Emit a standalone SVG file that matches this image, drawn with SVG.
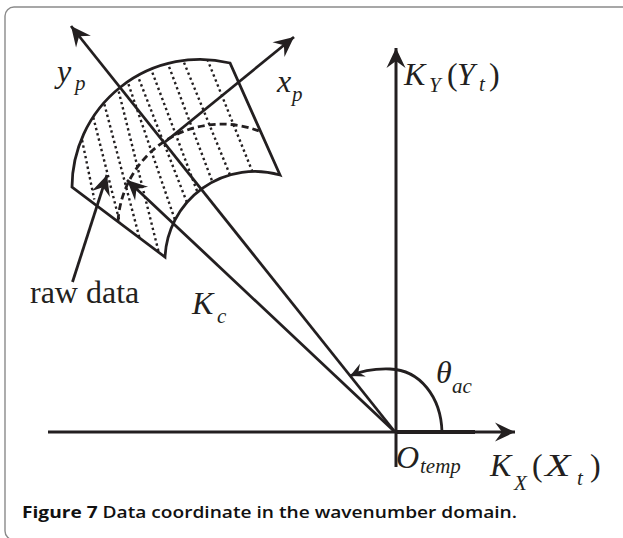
<svg xmlns="http://www.w3.org/2000/svg" width="623" height="538" viewBox="0 0 623 538">
<style>
.ln{fill:none;stroke:#231f20;stroke-width:2.8;stroke-linecap:butt}
.dot{fill:none;stroke:#231f20;stroke-width:2.4;stroke-dasharray:2.4 3}
.dash{fill:none;stroke:#231f20;stroke-width:2.8;stroke-dasharray:7 4}
.m{font-family:"Liberation Serif","Times New Roman",serif;font-style:italic;fill:#231f20}
.r{font-family:"Liberation Serif","Times New Roman",serif;font-style:normal;fill:#231f20}
.big{font-size:32px}
.sub{font-size:21px}
.cap{font-family:"Open Sans","Noto Sans",sans-serif;font-size:16px;fill:#111}
</style>
<defs>
<marker id="ah" markerUnits="userSpaceOnUse" viewBox="-22 -12 24 24" markerWidth="24" markerHeight="24" refX="0" refY="0" orient="auto">
<path d="M0,0 L-20,-9.5 L-13,0 L-20,9.5 Z" fill="#231f20"/>
</marker>
<marker id="ahs" markerUnits="userSpaceOnUse" viewBox="-22 -12 24 24" markerWidth="20" markerHeight="20" refX="0" refY="0" orient="auto">
<path d="M0,0 L-17,-8.5 L-11,0 L-17,8.5 Z" fill="#231f20"/>
</marker>
<clipPath id="shapeClip">
<path d="M72,187 A128,128 0 0 1 230,63 L280,175 A90,90 0 0 0 165,257 Z"/>
</clipPath>
</defs>
<rect x="5" y="7" width="680" height="533" rx="9" fill="#fff" stroke="#8a8a8a" stroke-width="1.4"/>

<g id="raw-data-region">
<path class="ln" d="M72,187 A128,128 0 0 1 230,63 L280,175 A90,90 0 0 0 165,257 Z" stroke-linejoin="miter"/>
<g clip-path="url(#shapeClip)">
<line class="dot" x1="81" y1="134.8" x2="94.3" y2="199.5"/>
<line class="dot" x1="92" y1="112.2" x2="120.3" y2="224.5"/>
<line class="dot" x1="103" y1="99" x2="140.3" y2="241"/>
<line class="dot" x1="117.4" y1="86.2" x2="158.6" y2="251.8"/>
<line class="dot" x1="126.7" y1="79.1" x2="177.6" y2="227.6"/>
<line class="dot" x1="137.1" y1="74.2" x2="189.6" y2="209.2"/>
<line class="dot" x1="150.5" y1="67.5" x2="199.5" y2="197.5"/>
<line class="dot" x1="167.2" y1="61.8" x2="214.5" y2="187.5"/>
<line class="dot" x1="182" y1="57.6" x2="233" y2="182.4"/>
<line class="dot" x1="205.3" y1="54.3" x2="254.7" y2="177.4"/>
</g>
<path class="dash" d="M118,221 A104,104 0 0 1 259,131"/>
</g>

<g id="connectors">
<line id="x-axis" class="ln" x1="48" y1="432" x2="515" y2="432" marker-end="url(#ah)"/>
<line class="ln" x1="395" y1="432" x2="475" y2="432" style="stroke-width:3.8"/>
<line id="y-axis" class="ln" x1="396" y1="467" x2="396" y2="48" marker-end="url(#ah)" style="stroke-width:3"/>
<line id="yp-axis" class="ln" x1="395" y1="432" x2="71" y2="26" marker-end="url(#ah)"/>
<line id="xp-axis" class="ln" x1="165" y1="142" x2="294" y2="37" marker-end="url(#ah)"/>
<line id="kc" class="ln" x1="395" y1="432" x2="127" y2="180" marker-end="url(#ah)"/>
<line id="raw-arrow" class="ln" x1="72.5" y1="282" x2="107" y2="175" marker-end="url(#ah)"/>
<path id="theta-arc" class="ln" d="M442,432 C441,397 420,370 390,369 C375,368.5 361,371 350,376" marker-end="url(#ahs)"/>
</g>

<g id="labels">
<text class="m big" x="57" y="82">y</text>
<text class="m sub" x="75" y="90">p</text>
<text class="m big" x="277" y="92">x</text>
<text class="m sub" x="292" y="101">p</text>
<text class="m big" x="404" y="85">K</text>
<text class="m sub" x="429" y="92">Y</text>
<text class="r big" x="447" y="85">(</text>
<text class="m big" x="457" y="85">Y</text>
<text class="m sub" x="479" y="91">t</text>
<text class="r big" x="489" y="85">)</text>
<text class="r big" x="30" y="303">raw data</text>
<text class="m big" x="192" y="314">K</text>
<text class="m sub" x="217" y="323">c</text>
<text class="m big" x="436" y="383">θ</text>
<text class="m sub" x="452" y="393">ac</text>
<text class="m big" x="396" y="468">O</text>
<text class="m sub" x="420" y="473">temp</text>
<text class="m big" x="490" y="476">K</text>
<text class="m sub" x="514" y="490">X</text>
<text class="r big" x="532" y="476">(</text>
<text class="m big" transform="translate(545,476) scale(1.3,1)" x="0" y="0">X</text>
<text class="m sub" x="577" y="485">t</text>
<text class="r big" x="590" y="476">)</text>
</g>

<text class="cap" x="22" y="518" textLength="495" lengthAdjust="spacingAndGlyphs"><tspan font-weight="700">Figure 7</tspan><tspan font-weight="600"> Data coordinate in the wavenumber domain.</tspan></text>
</svg>
